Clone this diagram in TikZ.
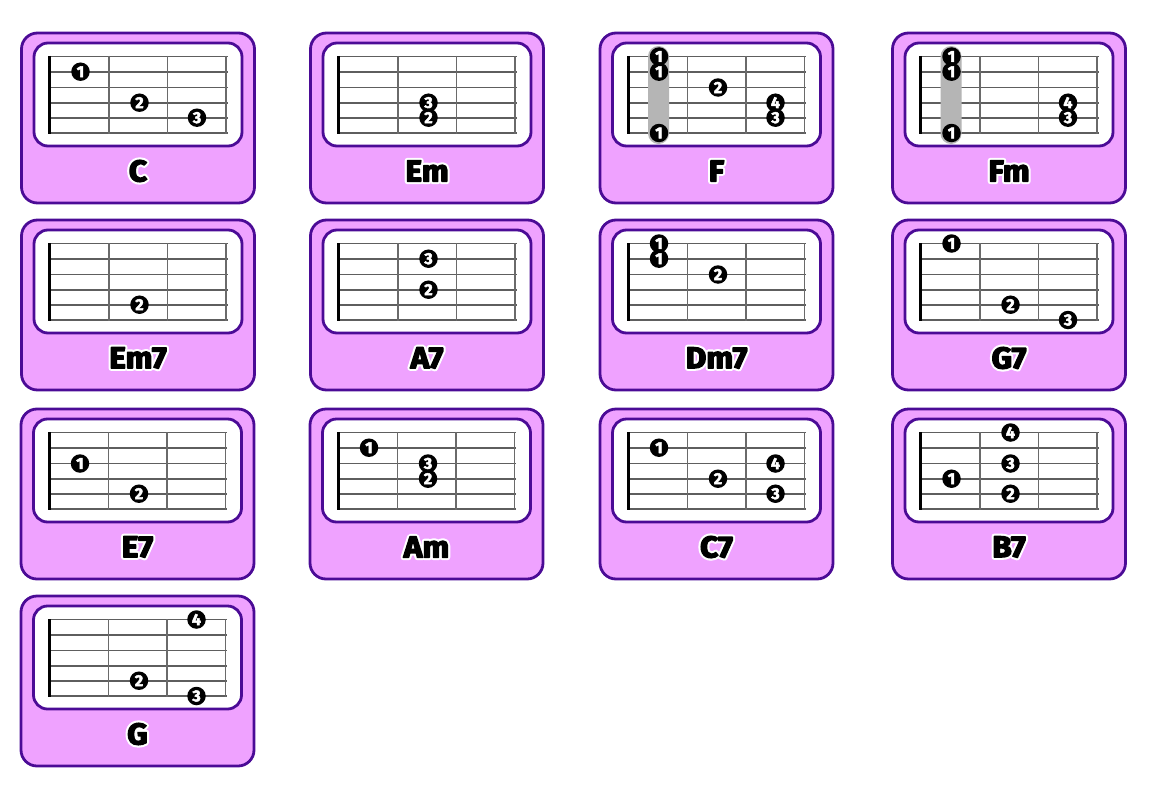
\documentclass[tikz,border=0pt]{standalone}
\usepackage{fontspec}
\setmainfont{Fira Sans}
\newfontfamily\titlefont{Fira Sans Bold}[FakeStretch=1.06]
\newfontfamily\digitfont{Fira Sans Bold}
\newcommand{\haloon}{\special{pdf:code q 2 Tr 5.5 w 1 J 1 j 1 1 1 RG 1 1 1 rg}}
\newcommand{\thickon}{\special{pdf:code q 2 Tr 1.3 w 1 J 1 j 0 0 0 RG 0 0 0 rg}}
\newcommand{\digiton}{\special{pdf:code q 2 Tr 0.5 w 1 J 1 j 1 1 1 RG 1 1 1 rg}}
\newcommand{\styleoff}{\special{pdf:code Q}}
\definecolor{cardfill}{HTML}{EFA2FF}
\definecolor{cardline}{HTML}{4B0B96}
\definecolor{stringc}{HTML}{5E5E5E}
\definecolor{fretc}{HTML}{6A6A6A}
\definecolor{barrec}{HTML}{B5B5B5}
\tikzset{
  cardbox/.style={draw=cardline,line width=2.8pt,fill=cardfill,rounded corners=16pt},
  neckbox/.style={draw=cardline,line width=2.8pt,fill=white,rounded corners=14pt},
  stringline/.style={draw=stringc,line width=1.6pt},
  fretline/.style={draw=fretc,line width=1.3pt},
  nutline/.style={draw=black,line width=3pt},
  fingerdot/.style={circle,fill=black,minimum size=18.5pt,inner sep=0pt,text=white,font=\digitfont\fontsize{16}{16}\selectfont},
  barrebox/.style={fill=barrec,rounded corners=10.5pt},
  chordname/.style={inner sep=0pt,font=\titlefont\fontsize{30}{30}\selectfont}
}
\newcommand{\fretx}[1]{\ifcase#1\or59\or118\or175.5\fi}
\newcommand{\stry}[1]{\ifcase#1\or23.5\or38.7\or54.5\or69.7\or84.7\or100\fi}
\newcommand{\chord}[6][]{%
 \begin{scope}[shift={(#3,#4)}]
  \path[cardbox] (0,0) rectangle (233,170);
  \path[neckbox] (12.5,10) rectangle (220.5,113);
  \foreach \s in {1,...,6} \path[stringline] (28,\stry{\s}) -- (206,\stry{\s});
  \foreach \f in {87.5,146,204.5} \path[fretline] (\f,23) -- (\f,100.5);
  \path[nutline] (28,23) -- (28,100.5);
  #1
  \foreach \f/\s/\n [count=\i] in {#6} \node[fingerdot] (#2-\i) at (\fretx{\f},\stry{\s}) {\digiton\n\styleoff};
  \node[chordname] (#2-name) at (116.5,138) {\rlap{\haloon #5\styleoff}\thickon #5\styleoff};
 \end{scope}}
\newcommand{\barre}{\path[barrebox] (48,13) rectangle (69,111);}
\begin{document}
\begin{tikzpicture}[x=1pt,y=-1pt]
\useasboundingbox (0,0) rectangle (1150,800);
\chord{c}{21.5}{33}{C}{1/2/1,2/4/2,3/5/3}
\chord{em}{310.5}{33}{Em}{2/4/3,2/5/2}
\chord[\barre]{f}{600}{33}{F}{1/1/1,1/2/1,1/6/1,2/3/2,3/4/4,3/5/3}
\chord[\barre]{fm}{892.5}{33}{Fm}{1/1/1,1/2/1,1/6/1,3/4/4,3/5/3}
\chord{emseven}{21.5}{220}{Em7}{2/5/2}
\chord{aseven}{310.5}{220}{A7}{2/2/3,2/4/2}
\chord{dmseven}{600}{220}{Dm7}{1/1/1,1/2/1,2/3/2}
\chord{gseven}{892.5}{220}{G7}{1/1/1,2/5/2,3/6/3}
\chord{eseven}{21}{409}{E7}{1/3/1,2/5/2}
\chord{am}{310}{409}{Am}{1/2/1,2/3/3,2/4/2}
\chord{cseven}{600}{409}{C7}{1/2/1,2/4/2,3/3/4,3/5/3}
\chord{bseven}{892.5}{409}{B7}{2/1/4,2/3/3,1/4/1,2/5/2}
\chord{g}{21}{596}{G}{3/1/4,2/5/2,3/6/3}
\end{tikzpicture}
\end{document}
